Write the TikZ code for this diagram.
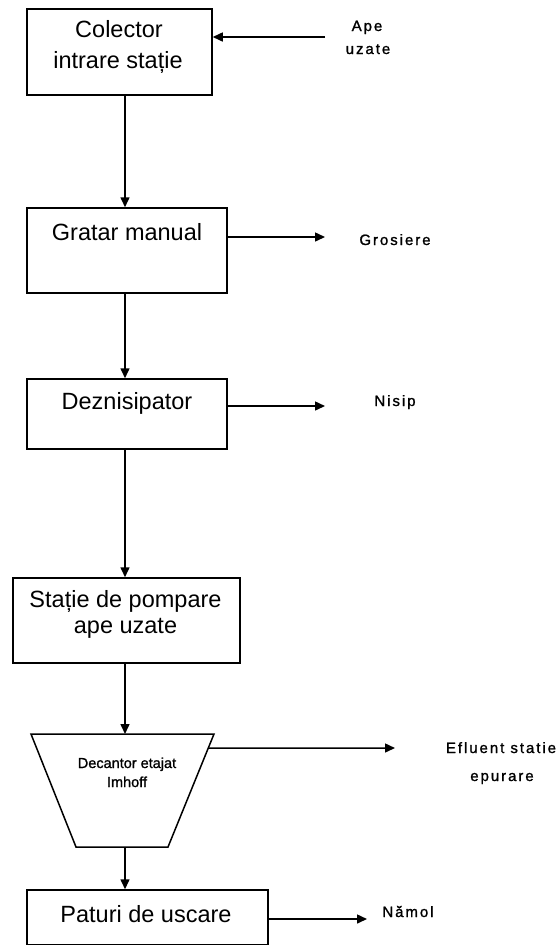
\documentclass[tikz,border=0pt]{standalone}
\usepackage{fontspec}
\setmainfont{Liberation Sans}
\newfontfamily\lblfont[LetterSpace=13,FakeBold=1.2]{Liberation Sans}
\newfontfamily\tankfont[FakeBold=1.2]{Liberation Sans}
\usetikzlibrary{arrows.meta,calc}
\begin{document}
\begin{tikzpicture}[x=1pt,y=-1pt,
  line width=1.5pt,
  flow/.style={-{Triangle[length=10pt,width=9pt]}},
  stage/.style={draw, rectangle, inner sep=0pt},
  boxtext/.style={anchor=base, inner sep=0pt, font=\fontsize{23.5}{28}\selectfont},
  sidetext/.style={anchor=base, inner sep=0pt, font=\lblfont\fontsize{15}{18}\selectfont},
  tanktext/.style={anchor=base, inner sep=0pt, font=\tankfont\fontsize{14.5}{18}\selectfont}]
\useasboundingbox (0,0) rectangle (560,946);

% process stages
\node[stage, minimum width=185pt, minimum height=86pt] (b1) at (119.5,52) {};
\node[stage, minimum width=200pt, minimum height=85pt] (b2) at (127,250.5) {};
\node[stage, minimum width=200pt, minimum height=70pt] (b3) at (127,414) {};
\node[stage, minimum width=227pt, minimum height=85pt] (b4) at (126.5,620.5) {};
\node[stage, minimum width=241pt, minimum height=54.5pt] (b6) at (147.5,917.25) {};

% Imhoff tank outline
\coordinate (tl) at (31,734);
\coordinate (tr) at (214,734);
\coordinate (br) at (168,847);
\coordinate (bl) at (76,847);
\draw[line join=miter] (tl) -- (tr) -- (br) -- (bl) -- cycle;
\coordinate (tre) at ($(tr)!0.124!(br)$);

% stage texts
\node[boxtext] (t1a) at (119,37.5) {Colector};
\node[boxtext] (t1b) at (118,68.5) {intrare stație};
\node[boxtext] (t2) at (127,240) {Gratar manual};
\node[boxtext] (t3) at (127,409) {Deznisipator};
\node[boxtext] (t4a) at (125.5,607) {Stație de pompare};
\node[boxtext] (t4b) at (125.5,633) {ape uzate};
\node[tanktext] (t5a) at (127,768) {Decantor etajat};
\node[tanktext] (t5b) at (127,787) {Imhoff};
\node[boxtext] (t6) at (146,922) {Paturi de uscare};

% side streams
\node[sidetext] (s1a) at (367,31) {Ape};
\node[sidetext] (s1b) at (368,54) {uzate};
\node[sidetext] (s2) at (395,245) {Grosiere};
\node[sidetext] (s3) at (395,406) {Nisip};
\node[sidetext] (s5a) at (501,753) {Efluent statie};
\node[sidetext] (s5b) at (502,781) {epurare};
\node[sidetext] (s6) at (408,917) {Nămol};

% main flow axis
\coordinate (axis) at (125,0);
\draw[flow] (b1.south -| axis) -- (b2.north -| axis);
\draw[flow] (b2.south -| axis) -- (b3.north -| axis);
\draw[flow] (b3.south -| axis) -- (b4.north -| axis);
\draw[flow] (b4.south -| axis) -- (tl -| axis);
\draw[flow] (bl -| axis) -- (b6.north -| axis);

% inflow and outflows
\coordinate (apeEnd) at (325,37);
\coordinate (grosEnd) at (325,237);
\coordinate (nisEnd) at (325,406);
\coordinate (efEnd) at (395,748);
\coordinate (namEnd) at (367,919);
\draw[flow] (apeEnd) -- (apeEnd -| b1.east);
\draw[flow] (grosEnd -| b2.east) -- (grosEnd);
\draw[flow] (nisEnd -| b3.east) -- (nisEnd);
\draw[flow] (tre) -- (efEnd);
\draw[flow] (namEnd -| b6.east) -- (namEnd);
\end{tikzpicture}
\end{document}
